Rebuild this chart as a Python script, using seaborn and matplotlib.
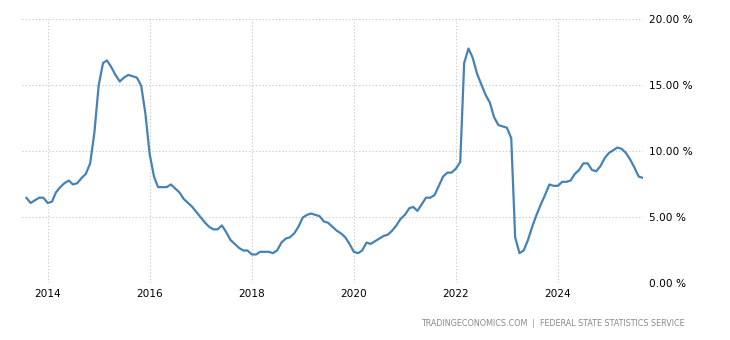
import numpy as np
import pandas as pd
import matplotlib
matplotlib.use("Agg")
import matplotlib.pyplot as plt
import matplotlib.dates as mdates
import matplotlib.ticker as mticker
import seaborn as sns

# Russia consumer price inflation, year over year, monthly
start_month = "2013-08-01"
inflation = [
    # 2013 Aug-Dec
    6.5, 6.1, 6.3, 6.5, 6.5,
    # 2014
    6.1, 6.2, 6.9, 7.3, 7.6, 7.8, 7.5, 7.6, 8.0, 8.3, 9.1, 11.4,
    # 2015
    15.0, 16.7, 16.9, 16.4, 15.8, 15.3, 15.6, 15.8, 15.7, 15.6, 15.0, 12.9,
    # 2016
    9.8, 8.1, 7.3, 7.3, 7.3, 7.5, 7.2, 6.9, 6.4, 6.1, 5.8, 5.4,
    # 2017
    5.0, 4.6, 4.3, 4.1, 4.1, 4.4, 3.9, 3.3, 3.0, 2.7, 2.5, 2.5,
    # 2018
    2.2, 2.2, 2.4, 2.4, 2.4, 2.3, 2.5, 3.1, 3.4, 3.5, 3.8, 4.3,
    # 2019
    5.0, 5.2, 5.3, 5.2, 5.1, 4.7, 4.6, 4.3, 4.0, 3.8, 3.5, 3.0,
    # 2020
    2.4, 2.3, 2.5, 3.1, 3.0, 3.2, 3.4, 3.6, 3.7, 4.0, 4.4, 4.9,
    # 2021
    5.2, 5.7, 5.8, 5.5, 6.0, 6.5, 6.5, 6.7, 7.4, 8.1, 8.4, 8.4,
    # 2022
    8.7, 9.2, 16.7, 17.8, 17.1, 15.9, 15.1, 14.3, 13.7, 12.6, 12.0, 11.9,
    # 2023
    11.8, 11.0, 3.5, 2.3, 2.5, 3.3, 4.3, 5.2, 6.0, 6.7, 7.5, 7.4,
    # 2024
    7.4, 7.7, 7.7, 7.8, 8.3, 8.6, 9.1, 9.1, 8.6, 8.5, 8.9, 9.5,
    # 2025 Jan-Sep
    9.9, 10.1, 10.3, 10.2, 9.9, 9.4, 8.8, 8.1, 8.0,
]
year_ticks = [2014, 2016, 2018, 2020, 2022, 2024]
pct_ticks = [0, 5, 10, 15, 20]
source_text = "TRADINGECONOMICS.COM  |  FEDERAL STATE STATISTICS SERVICE"

dates = pd.date_range(start_month, periods=len(inflation), freq="MS")
df = pd.DataFrame({"date": dates, "rate": inflation})

sns.set_theme(style="white")
plt.rcParams["font.family"] = ["DejaVu Sans"]

fig = plt.figure(figsize=(7.3, 3.4), dpi=100)
ax = fig.add_axes([0.0301, 0.1662, 0.8507, 0.7765])

sns.lineplot(data=df, x="date", y="rate", ax=ax, color="#4682b4", linewidth=1.6)

ax.set_xlim(pd.Timestamp("2013-07-01"), pd.Timestamp("2025-09-01"))
ax.set_ylim(0, 20)

ax.set_xticks([pd.Timestamp(f"{y}-01-01") for y in year_ticks])
ax.xaxis.set_major_formatter(mdates.DateFormatter("%Y"))
ax.set_yticks(pct_ticks)
ax.yaxis.set_major_formatter(mticker.FuncFormatter(lambda v, _: f"{v:.2f} %"))
ax.yaxis.tick_right()

ax.tick_params(axis="both", length=0, labelsize=7.6, colors="#000000")
ax.tick_params(axis="y", pad=4)
ax.tick_params(axis="x", pad=4)

ax.grid(True, color="#c4c4c4", linestyle=(0, (1, 2)), linewidth=0.8)
for s in ax.spines.values():
    s.set_visible(False)
ax.set_xlabel("")
ax.set_ylabel("")

fig.text(685 / 730, 1 - 324 / 340, source_text, ha="right", va="center",
         fontsize=5.8, color="#8a8a8a")

fig.savefig("out.png", dpi=100)
